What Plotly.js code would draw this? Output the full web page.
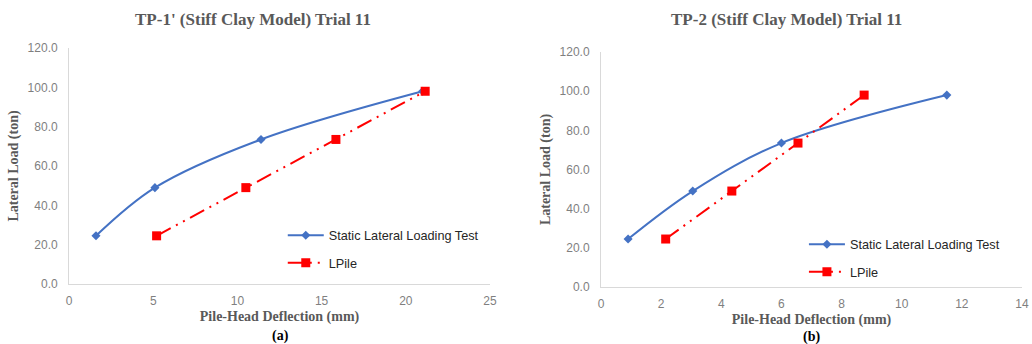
<!DOCTYPE html>
<html>
<head>
<meta charset="utf-8">
<script src="https://cdn.plot.ly/plotly-3.0.1.min.js"></script>
<style>html,body{margin:0;padding:0;background:#fff}#chart{width:1032px;height:344px}</style>
</head>
<body>
<div id="chart"></div>
<script>
// Data
const loads = [24.5, 49.0, 73.5, 98.0];
const tp1_test_defl = [1.6, 5.1, 11.4, 21.0];
const tp1_lpile_defl = [5.2, 10.5, 15.85, 21.15];
const tp2_test_defl = [0.9, 3.05, 6.0, 11.5];
const tp2_lpile_defl = [2.15, 4.35, 6.55, 8.75];
const seriesNames = ["Static Lateral Loading Test", "LPile"];
const chartTitles = ["TP-1' (Stiff Clay Model) Trial 11", "TP-2 (Stiff Clay Model) Trial 11"];
const panelLabels = ["(a)", "(b)"];
const xTitle = "Pile-Head Deflection (mm)";
const yTitle = "Lateral Load (ton)";

const BLUE = "#4472C4", RED = "#FF0000", GRAY = "#595959";
const redDash = "16px,6px,2px,6px,2px,6px";

function testTrace(x, xa, ya, leg) {
  return {x: x, y: loads, xaxis: xa, yaxis: ya, legend: leg, name: seriesNames[0],
    legendgroup: "g1", mode: "lines+markers",
    line: {color: BLUE, width: 2, shape: "spline", smoothing: 1},
    marker: {symbol: "diamond", size: 7, color: BLUE}};
}
function lpileTrace(x, xa, ya, leg) {
  return {x: x, y: loads, xaxis: xa, yaxis: ya, legend: leg, name: seriesNames[1],
    legendgroup: "g2", mode: "lines+markers",
    line: {color: RED, width: 2, dash: redDash},
    marker: {symbol: "square", size: 9, color: RED}};
}

const data = [
  testTrace(tp1_test_defl, "x", "y", "legend"),
  lpileTrace(tp1_lpile_defl, "x", "y", "legend"),
  testTrace(tp2_test_defl, "x2", "y2", "legend2"),
  lpileTrace(tp2_lpile_defl, "x2", "y2", "legend2")
];

const tickFont = {family: "Liberation Sans, Arial, sans-serif", size: 12, color: "#7F7F7F"};
const axTitleFont = {family: "Liberation Serif, Times New Roman, serif", size: 14, color: GRAY};

function xax(domain, range, dtick) {
  return {domain: domain, range: range, dtick: dtick, tick0: 0, showgrid: false, zeroline: false,
    showline: true, linecolor: "#D9D9D9", linewidth: 1, ticks: "", tickfont: tickFont, ticklabelstandoff: 6,
    title: {text: "<b>" + xTitle + "</b>", font: axTitleFont, standoff: 3}, automargin: false, fixedrange: true};
}
function yax(domain, anchor) {
  return {domain: domain, range: [0, 120], dtick: 20, tick0: 0, tickformat: ".1f", showgrid: false,
    zeroline: false, showline: true, linecolor: "#D9D9D9", linewidth: 1, ticks: "", tickfont: tickFont,
    ticklabelstandoff: 8, anchor: anchor,
    title: {text: "<b>" + yTitle + "</b>", font: axTitleFont, standoff: 5}, automargin: false, fixedrange: true};
}

const legFont = {family: "Liberation Sans, Arial, sans-serif", size: 12.7, color: "#262626"};
const layout = {
  width: 1032, height: 344,
  margin: {l: 0, r: 0, t: 0, b: 0},
  paper_bgcolor: "#fff", plot_bgcolor: "#fff",
  showlegend: true,
  xaxis: Object.assign(xax([0.0669, 0.4748], [0, 25], 5), {anchor: "y"}),
  yaxis: yax([0.1744, 0.8605], "x"),
  xaxis2: Object.assign(xax([0.5824, 0.9903], [0, 14], 2), {anchor: "y2"}),
  yaxis2: yax([0.1657, 0.8488], "x2"),
  legend: {x: 0.274, y: 0.2747, xanchor: "left", yanchor: "middle", font: legFont, bgcolor: "rgba(0,0,0,0)",
    traceorder: "grouped", tracegroupgap: 8, itemwidth: 36},
  legend2: {x: 0.779, y: 0.2485, xanchor: "left", yanchor: "middle", font: legFont, bgcolor: "rgba(0,0,0,0)",
    traceorder: "grouped", tracegroupgap: 8, itemwidth: 36},
  annotations: [
    {text: "<b>" + chartTitles[0] + "</b>", x: 253/1032, y: 1 - 20/344, xref: "paper", yref: "paper",
     showarrow: false, xanchor: "center", yanchor: "middle",
     font: {family: "Liberation Serif, Times New Roman, serif", size: 17, color: GRAY}},
    {text: "<b>" + chartTitles[1] + "</b>", x: 786/1032, y: 1 - 20/344, xref: "paper", yref: "paper",
     showarrow: false, xanchor: "center", yanchor: "middle",
     font: {family: "Liberation Serif, Times New Roman, serif", size: 17, color: GRAY}},
    {text: "<b>" + panelLabels[0] + "</b>", x: 280/1032, y: 1 - 336/344, xref: "paper", yref: "paper",
     showarrow: false, xanchor: "center", yanchor: "middle",
     font: {family: "Liberation Serif, Times New Roman, serif", size: 14, color: "#000"}},
    {text: "<b>" + panelLabels[1] + "</b>", x: 811/1032, y: 1 - 337/344, xref: "paper", yref: "paper",
     showarrow: false, xanchor: "center", yanchor: "middle",
     font: {family: "Liberation Serif, Times New Roman, serif", size: 14, color: "#000"}}
  ]
};

Plotly.newPlot("chart", data, layout, {displayModeBar: false, staticPlot: true});
</script>
</body>
</html>
